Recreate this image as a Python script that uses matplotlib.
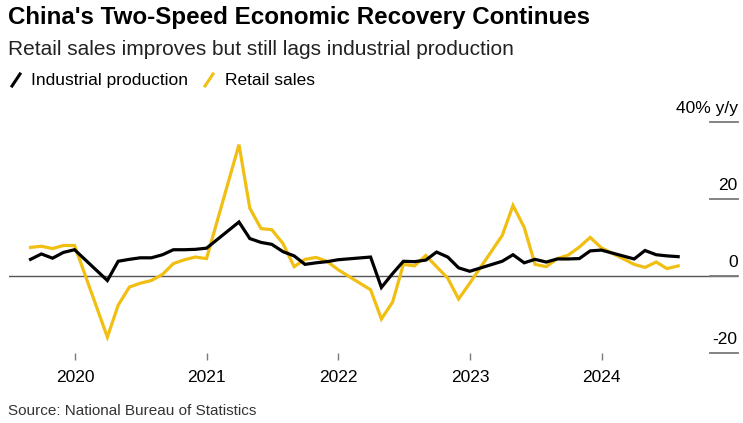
import pandas as pd
import matplotlib
matplotlib.use("Agg")
import matplotlib.pyplot as plt
from matplotlib.lines import Line2D
from matplotlib.transforms import blended_transform_factory

# China data (Jan/Feb not published separately, so skipped)
months = ['2019-08', '2019-09', '2019-10', '2019-11', '2019-12',
          '2020-03', '2020-04', '2020-05', '2020-06', '2020-07', '2020-08', '2020-09', '2020-10', '2020-11', '2020-12',
          '2021-03', '2021-04', '2021-05', '2021-06', '2021-07', '2021-08', '2021-09', '2021-10', '2021-11', '2021-12',
          '2022-03', '2022-04', '2022-05', '2022-06', '2022-07', '2022-08', '2022-09', '2022-10', '2022-11', '2022-12',
          '2023-03', '2023-04', '2023-05', '2023-06', '2023-07', '2023-08', '2023-09', '2023-10', '2023-11', '2023-12',
          '2024-03', '2024-04', '2024-05', '2024-06', '2024-07']

industrial = [4.4, 5.8, 4.7, 6.2, 6.9,
              -1.1, 3.9, 4.4, 4.8, 4.8, 5.6, 6.9, 6.9, 7.0, 7.3,
              14.1, 9.8, 8.8, 8.3, 6.4, 5.3, 3.1, 3.5, 3.8, 4.3,
              5.0, -2.9, 0.7, 3.9, 3.8, 4.2, 6.3, 5.0, 2.2, 1.3,
              3.9, 5.6, 3.5, 4.4, 3.7, 4.5, 4.5, 4.6, 6.6, 6.8,
              4.5, 6.7, 5.6, 5.3, 5.1]

retail = [7.5, 7.8, 7.2, 8.0, 8.0,
          -15.8, -7.5, -2.8, -1.8, -1.1, 0.5, 3.3, 4.3, 5.0, 4.6,
          34.2, 17.7, 12.4, 12.1, 8.5, 2.5, 4.4, 4.9, 3.9, 1.7,
          -3.5, -11.1, -6.7, 3.1, 2.7, 5.4, 2.5, -0.5, -5.9, -1.8,
          10.6, 18.4, 12.7, 3.1, 2.5, 4.6, 5.5, 7.6, 10.1, 7.4,
          3.1, 2.3, 3.7, 2.0, 2.7]

years = [2020, 2021, 2022, 2023, 2024]
yticks = [-20, 0, 20, 40]
ylabels = ['-20', '0', '20', '40% y/y']

YELLOW = '#F1BF12'
GREY = '#7a7a7a'

plt.rcParams['font.family'] = ['Liberation Sans', 'DejaVu Sans']

dates = pd.to_datetime(months) + pd.offsets.MonthEnd(0)

fig = plt.figure(figsize=(7.43, 4.23), dpi=100)
ax = fig.add_axes([0.0125, 0.1648, 0.9808, 0.5461])

ax.axhline(0, color='#555555', lw=1.0, zorder=1)
ax.plot(dates, retail, color=YELLOW, lw=2.3, zorder=3, solid_joinstyle='miter')
ax.plot(dates, industrial, color='black', lw=2.3, zorder=4, solid_joinstyle='miter')

ax.set_xlim(pd.Timestamp('2019-07-03'), pd.Timestamp('2025-01-13'))
ax.set_ylim(-20, 40)
for s in ax.spines.values():
    s.set_visible(False)

ax.set_xticks([pd.Timestamp(f'{y}-01-01') for y in years])
ax.set_xticklabels([str(y) for y in years], fontsize=12.5)
ax.tick_params(axis='x', length=5, width=1, color=GREY, pad=7)
ax.set_yticks([])

# right-side value labels with short rules
tr = blended_transform_factory(ax.transAxes, ax.transData)
for v, lab in zip(yticks, ylabels):
    ax.plot([0.962, 0.9995], [v, v], color=GREY, lw=1.3, transform=tr, clip_on=False)
    ax.text(0.9995, v + 1.6, lab, transform=tr, ha='right', va='bottom', fontsize=12.5)

# titles
fig.text(0.011, 0.985, "China's Two-Speed Economic Recovery Continues",
         fontsize=17.4, fontweight='bold', va='top', ha='left')
fig.text(0.011, 0.905, "Retail sales improves but still lags industrial production",
         fontsize=15, va='top', ha='left', color='#222222')

# legend
fig.add_artist(Line2D([12 / 743, 20 / 743], [1 - 86 / 423, 1 - 74 / 423], color='black', lw=2.2))
fig.text(31 / 743, 1 - 80 / 423, 'Industrial production', fontsize=12.5, va='center', ha='left')
fig.add_artist(Line2D([205 / 743, 213 / 743], [1 - 86 / 423, 1 - 74 / 423], color=YELLOW, lw=2.2))
fig.text(225 / 743, 1 - 80 / 423, 'Retail sales', fontsize=12.5, va='center', ha='left')

fig.text(0.011, 0.012, 'Source: National Bureau of Statistics', fontsize=11,
         va='bottom', ha='left', color='#333333')

fig.savefig('out.png', dpi=100)
